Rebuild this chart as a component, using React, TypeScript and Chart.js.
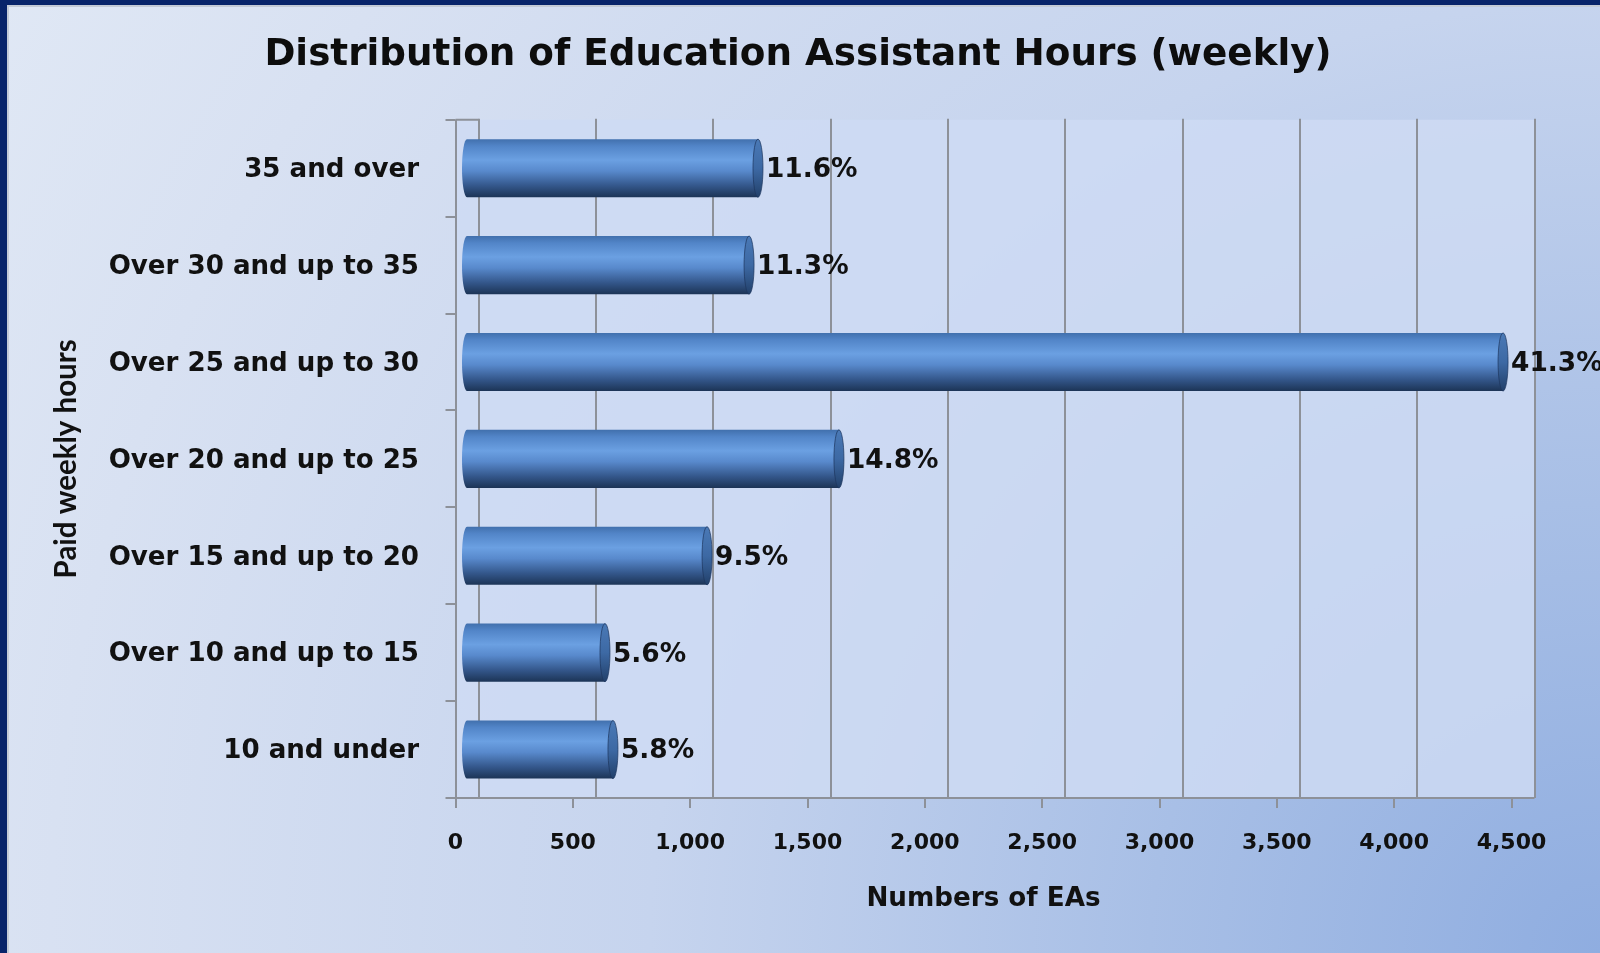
import React, { useEffect, useRef } from "react";
import { Chart, registerables } from "chart.js";

Chart.register(...registerables);

const chartTitle = "Distribution of Education Assistant Hours (weekly)";
const yAxisTitle = "Paid weekly hours";
const xAxisTitle = "Numbers of EAs";
const categories = [
  "35 and over",
  "Over 30 and up to 35",
  "Over 25 and up to 30",
  "Over 20 and up to 25",
  "Over 15 and up to 20",
  "Over 10 and up to 15",
  "10 and under",
];
const eaCounts = [1240, 1202, 4415, 1585, 1023, 588, 622];
const percentLabels = ["11.6%", "11.3%", "41.3%", "14.8%", "9.5%", "5.6%", "5.8%"];
const xTickValues = [0, 500, 1000, 1500, 2000, 2500, 3000, 3500, 4000, 4500];

const WIDE = "'DejaVu Sans', Verdana, sans-serif";
const NARROW = "Lato, 'Open Sans', sans-serif";
const DEPTH = 11.5; // half of the 3D depth shift in px
const CAP_RX = 5;

function barGradient(ctx: CanvasRenderingContext2D, y0: number, y1: number) {
  const g = ctx.createLinearGradient(0, y0, 0, y1);
  g.addColorStop(0, "#4170ad");
  g.addColorStop(0.12, "#5285c8");
  g.addColorStop(0.36, "#6ba0e2");
  g.addColorStop(0.55, "#5889cc");
  g.addColorStop(0.8, "#34578b");
  g.addColorStop(1, "#1c3456");
  return g;
}

const threeDPlugin = {
  id: "threeD",
  beforeDatasetsDraw(chart: any) {
    const ctx = chart.ctx as CanvasRenderingContext2D;
    const xs = chart.scales.x;
    const { top, bottom } = chart.chartArea;
    const front0 = xs.getPixelForValue(0) - DEPTH;
    const back0 = xs.getPixelForValue(0) + DEPTH;
    const backEnd = xs.getPixelForValue(4500) + DEPTH;
    ctx.save();
    ctx.fillStyle = "rgba(206,219,243,0.85)";
    ctx.fillRect(front0, top, backEnd - front0, bottom - top);
    ctx.strokeStyle = "#8d9199";
    ctx.lineWidth = 2;
    xTickValues.forEach((v) => {
      const x = Math.round(xs.getPixelForValue(v) + DEPTH);
      ctx.beginPath();
      ctx.moveTo(x, top - 1);
      ctx.lineTo(x, bottom);
      ctx.stroke();
    });
    ctx.beginPath();
    ctx.moveTo(front0, top);
    ctx.lineTo(back0, top);
    ctx.moveTo(Math.round(front0), top);
    ctx.lineTo(Math.round(front0), bottom);
    ctx.stroke();
    ctx.beginPath();
    ctx.moveTo(front0, bottom);
    ctx.lineTo(backEnd, bottom);
    ctx.stroke();
    xTickValues.forEach((v) => {
      const x = Math.round(xs.getPixelForValue(v) - DEPTH);
      ctx.beginPath();
      ctx.moveTo(x, bottom);
      ctx.lineTo(x, bottom + 10);
      ctx.stroke();
    });
    const band = (bottom - top) / categories.length;
    for (let i = 0; i <= categories.length; i++) {
      const y = Math.round(top + i * band);
      ctx.beginPath();
      ctx.moveTo(front0 - 10, y);
      ctx.lineTo(front0, y);
      ctx.stroke();
    }
    ctx.restore();
  },
  afterDatasetsDraw(chart: any) {
    const ctx = chart.ctx as CanvasRenderingContext2D;
    const meta = chart.getDatasetMeta(0);
    ctx.save();
    meta.data.forEach((el: any, i: number) => {
      const { x, y, base, height } = el.getProps(["x", "y", "base", "height"], true);
      const ry = height / 2;
      ctx.beginPath();
      ctx.ellipse(base, y, CAP_RX, ry, 0, Math.PI / 2, (3 * Math.PI) / 2);
      ctx.closePath();
      ctx.fillStyle = barGradient(ctx, y - ry, y + ry);
      ctx.fill();
      const cg = ctx.createLinearGradient(0, y - ry, 0, y + ry);
      cg.addColorStop(0, "#4a79b6");
      cg.addColorStop(0.5, "#3d69a4");
      cg.addColorStop(1, "#22406a");
      ctx.beginPath();
      ctx.ellipse(x, y, CAP_RX, ry, 0, 0, Math.PI * 2);
      ctx.fillStyle = cg;
      ctx.fill();
      ctx.strokeStyle = "rgba(28,52,92,0.7)";
      ctx.lineWidth = 1;
      ctx.stroke();
      ctx.font = `bold 26.4px ${WIDE}`;
      ctx.fillStyle = "#111111";
      ctx.textAlign = "left";
      ctx.textBaseline = "middle";
      ctx.fillText(percentLabels[i], x + CAP_RX + 3, y + 2);
    });
    ctx.restore();
  },
  afterDraw(chart: any) {
    const ctx = chart.ctx as CanvasRenderingContext2D;
    const xs = chart.scales.x;
    const cx = (xs.getPixelForValue(0) + xs.getPixelForValue(4500)) / 2 - DEPTH;
    ctx.save();
    ctx.font = `bold 26.2px ${WIDE}`;
    ctx.fillStyle = "#111111";
    ctx.textAlign = "center";
    ctx.textBaseline = "middle";
    ctx.fillText(xAxisTitle, cx, 899);
    ctx.restore();
  },
};

export default function App() {
  const canvasRef = useRef<HTMLCanvasElement | null>(null);

  useEffect(() => {
    const canvas = canvasRef.current;
    if (!canvas) return;
    const chart = new Chart(canvas, {
      type: "bar",
      data: {
        labels: categories,
        datasets: [
          {
            data: eaCounts,
            backgroundColor: (c: any) => {
              const ch = c.chart;
              const ys = ch.scales && ch.scales.y;
              if (!ys || !ch.chartArea) return "#4f81bd";
              const cy = ys.getPixelForValue(c.dataIndex);
              const h = ((ch.chartArea.bottom - ch.chartArea.top) / categories.length) * 0.6;
              return barGradient(ch.ctx, cy - h / 2, cy + h / 2);
            },
            borderWidth: 0,
            barPercentage: 0.6,
            categoryPercentage: 1,
          },
        ],
      },
      options: {
        indexAxis: "y",
        responsive: false,
        animation: false,
        layout: { padding: { left: 73, right: 77, top: 0, bottom: 0 } },
        plugins: {
          legend: { display: false },
          tooltip: { enabled: false },
          title: {
            display: true,
            text: chartTitle,
            color: "#0d0d0d",
            font: { family: WIDE, size: 37.3, weight: "bold" },
            padding: { top: 33, bottom: 42 },
          },
        },
        scales: {
          x: {
            min: 0,
            max: 4500,
            afterBuildTicks: (scale: any) => {
              scale.ticks = xTickValues.map((v) => ({ value: v }));
            },
            afterFit: (scale: any) => {
              scale.height = 155;
            },
            grid: { display: false, drawTicks: false },
            border: { display: false },
            ticks: {
              color: "#111111",
              font: { family: WIDE, size: 22, weight: "bold" },
              padding: 32,
              labelOffset: -DEPTH,
              maxRotation: 0,
              autoSkip: false,
              callback: (v: any) => Number(v).toLocaleString("en-US"),
            },
            title: { display: false },
          },
          y: {
            afterFit: (scale: any) => {
              scale.width = 394;
            },
            grid: { display: false, drawTicks: false },
            border: { display: false },
            ticks: {
              color: "#111111",
              font: { family: WIDE, size: 26.1, weight: "bold" },
              padding: 48,
              labelOffset: 2,
            },
            title: {
              display: true,
              text: yAxisTitle,
              color: "#111111",
              font: { family: NARROW, size: 29.5, weight: "bold" },
              padding: { top: -24, bottom: 0 },
            },
          },
        },
      },
      plugins: [threeDPlugin],
    } as any);
    return () => chart.destroy();
  }, []);

  return (
    <div
      style={{
        position: "fixed",
        left: 0,
        top: 0,
        width: 1600,
        height: 953,
        background: "#08246a",
        overflow: "hidden",
      }}
    >
      <div
        style={{
          position: "absolute",
          left: 7,
          top: 5,
          width: 1593,
          height: 948,
          boxSizing: "border-box",
          borderLeft: "2px solid #c3cad6",
          borderTop: "2px solid #c3cad6",
          background:
            "radial-gradient(circle at 100% 100%, #8fade0 0px, #a8bfe6 450px, #c6d4ee 950px, #d8e1f2 1550px, #e0e8f5 1870px)",
        }}
      />
      <canvas
        ref={canvasRef}
        width={1600}
        height={953}
        style={{ position: "absolute", left: 0, top: 0, width: 1600, height: 953 }}
      />
    </div>
  );
}
